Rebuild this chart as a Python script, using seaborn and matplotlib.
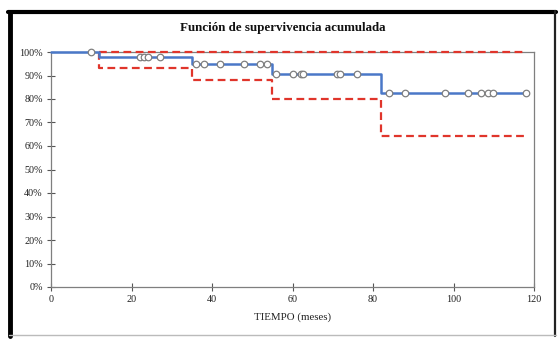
import numpy as np
import pandas as pd
import matplotlib
matplotlib.use("Agg")
import matplotlib.pyplot as plt
import seaborn as sns
from matplotlib.lines import Line2D
from matplotlib.ticker import PercentFormatter

# --- Data ---
# Kaplan-Meier estimate (blue step line)
km_time = [0, 12, 35, 55, 82, 118]
km_surv = [1.0, 0.978, 0.950, 0.907, 0.824, 0.824]

# Confidence band (red dashed)
upper_time = [12, 118]
upper_surv = [1.0, 1.0]
lower_time = [12, 12, 35, 55, 82, 118]
lower_surv = [1.0, 0.934, 0.882, 0.800, 0.643, 0.643]

# Censored observations (open circles)
censor_time = [10, 22, 23, 24, 27, 36, 38, 42, 48, 52, 53.6,
               56, 60, 62, 62.6, 71, 71.8, 76,
               84, 88, 98, 103.7, 106.8, 108.6, 109.7, 118]

x_ticks = [0, 20, 40, 60, 80, 100, 120]
y_ticks = np.arange(0, 1.01, 0.1)

BLUE = "#4a78c8"
RED = "#e0352b"
GRAY = "#7f7f7f"

sns.set_style("white")
plt.rcParams["font.family"] = ["Liberation Serif", "DejaVu Serif"]

fig = plt.figure(figsize=(5.59, 3.40), dpi=100)
ax = fig.add_axes([51 / 559, 1 - 287 / 340, (534 - 51) / 559, (287 - 52) / 340])

km = pd.DataFrame({"t": km_time, "s": km_surv})
up = pd.DataFrame({"t": upper_time, "s": upper_surv})
lo = pd.DataFrame({"t": lower_time, "s": lower_surv})

dash = (0, (3.5, 2))
sns.lineplot(data=up, x="t", y="s", ax=ax, color=RED, lw=1.6, linestyle=dash,
             drawstyle="steps-post", estimator=None, sort=False,
             clip_on=False, zorder=4)
sns.lineplot(data=lo, x="t", y="s", ax=ax, color=RED, lw=1.6, linestyle=dash,
             drawstyle="steps-post", estimator=None, sort=False, zorder=3)
sns.lineplot(data=km, x="t", y="s", ax=ax, color=BLUE, lw=1.8,
             drawstyle="steps-post", estimator=None, sort=False,
             clip_on=False, zorder=4)

# censor marks sit on the KM step curve
idx = np.searchsorted(km_time, censor_time, side="right") - 1
cens = pd.DataFrame({"t": censor_time, "s": np.array(km_surv)[idx]})
sns.scatterplot(data=cens, x="t", y="s", ax=ax, s=22, color="white",
                edgecolor=GRAY, linewidth=0.9, zorder=5, clip_on=False)

ax.set_xlim(0, 120)
ax.set_ylim(0, 1.0)
ax.set_xticks(x_ticks)
ax.set_yticks(y_ticks)
ax.yaxis.set_major_formatter(PercentFormatter(1.0, decimals=0))
ax.tick_params(bottom=True, left=True, direction="inout", length=6, width=0.8,
               color="#555555", labelsize=7.3, labelcolor="#222222", pad=3)
for sp in ax.spines.values():
    sp.set_color(GRAY)
    sp.set_linewidth(0.9)
ax.set_xlabel("")
ax.set_ylabel("")

fig.text(283 / 559, 1 - 28 / 340, "Función de supervivencia acumulada",
         ha="center", va="center", fontsize=9.4, fontweight="bold", color="#111111")
fig.text(293 / 559, 1 - 317 / 340, "TIEMPO (meses)", ha="center", va="center",
         fontsize=7.8, color="#222222")

# screenshot frame around the chart
def px(x, y):
    return x / 559, 1 - y / 340

for (x0, y0, x1, y1, c, w) in [
    (9.5, 12, 9.5, 336, "black", 3.5),
    (8, 12, 556, 12, "black", 3.0),
    (555, 11, 555, 336, "#222222", 1.6),
    (9, 335, 556, 335, "#bbbbbb", 1.0),
]:
    (a, b), (c2, d) = px(x0, y0), px(x1, y1)
    fig.add_artist(Line2D([a, c2], [b, d], color=c, lw=w))

fig.savefig("out.png", dpi=100, facecolor="white")
